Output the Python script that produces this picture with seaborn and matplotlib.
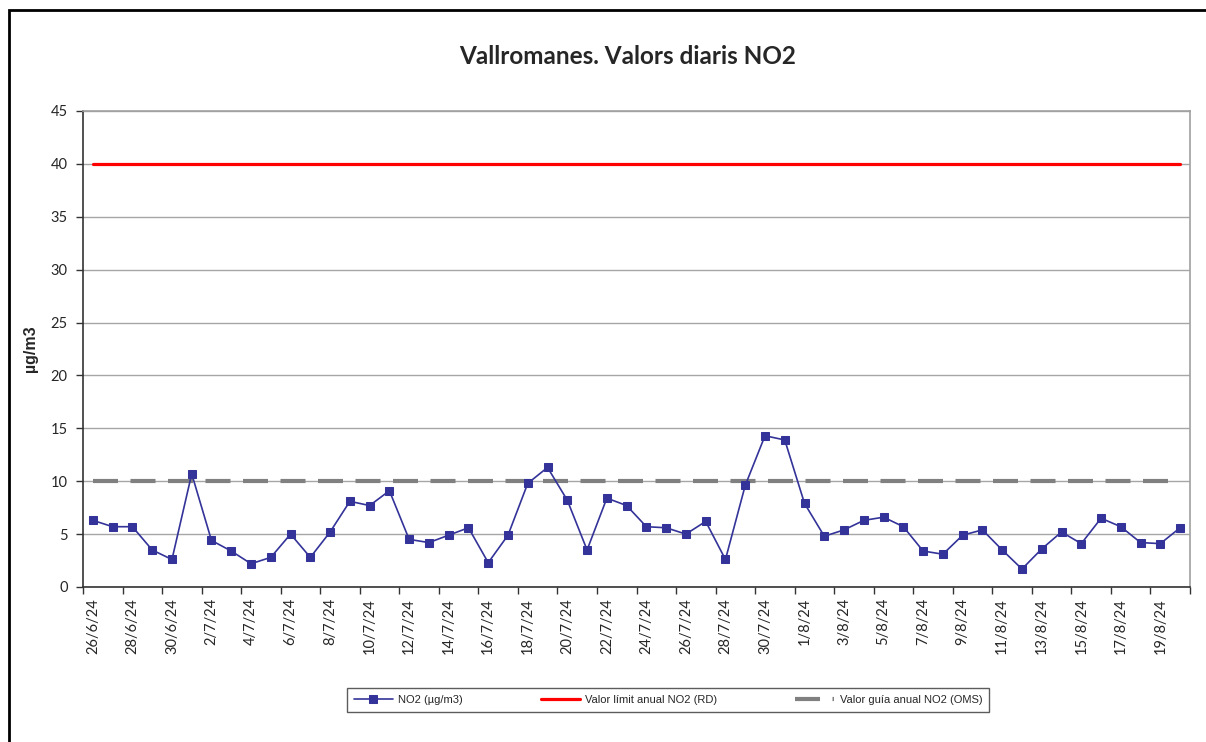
import numpy as np
import pandas as pd
import matplotlib
matplotlib.use("Agg")
import matplotlib.pyplot as plt
import seaborn as sns
from matplotlib.patches import Rectangle
from matplotlib.ticker import FixedLocator

# ---- data ----
dates = (["26/6/24", "27/6/24", "28/6/24", "29/6/24", "30/6/24"]
         + [f"{d}/7/24" for d in range(1, 32)]
         + [f"{d}/8/24" for d in range(1, 21)])
no2 = [6.3, 5.7, 5.7, 3.5, 2.6, 10.7, 4.4, 3.4, 2.2, 2.8,
       5.0, 2.8, 5.2, 8.1, 7.7, 9.1, 4.5, 4.2, 4.9, 5.6,
       2.3, 4.9, 9.8, 11.3, 8.2, 3.5, 8.4, 7.7, 5.7, 5.6,
       5.0, 6.2, 2.6, 9.6, 14.3, 13.9, 7.9, 4.8, 5.4, 6.3,
       6.6, 5.7, 3.4, 3.1, 4.9, 5.4, 3.5, 1.7, 3.6, 5.2,
       4.1, 6.5, 5.7, 4.2, 4.1, 5.6]
limit_rd = [40] * len(dates)
guide_oms = [10] * len(dates)
yticks = [0, 5, 10, 15, 20, 25, 30, 35, 40, 45]

title = "Vallromanes. Valors diaris NO2"
ylabel = "µg/m3"
lab_no2 = "NO2 (µg/m3)"
lab_rd = "Valor límit anual NO2 (RD)"
lab_oms = "Valor guía anual NO2 (OMS)"

df = pd.DataFrame({"idx": np.arange(len(dates)), "date": dates,
                   "no2": no2, "rd": limit_rd, "oms": guide_oms})

sns.set_theme(style="white")
plt.rcParams['font.family'] = ['Lato', 'DejaVu Sans']

W, H = 1206, 742
fig = plt.figure(figsize=(W / 100, H / 100), dpi=100)
ax = fig.add_axes([83 / W, 1 - 587 / H, (1190 - 83) / W, (587 - 111) / H])

sns.lineplot(data=df, x="idx", y="no2", ax=ax, color="#333399", lw=1.2,
             marker="s", markersize=6, markeredgecolor="#333399",
             label=lab_no2, zorder=4)
sns.lineplot(data=df, x="idx", y="rd", ax=ax, color="#ff0000", lw=2.3,
             label=lab_rd, zorder=3)
sns.lineplot(data=df, x="idx", y="oms", ax=ax, color="#808080", lw=3.0,
             dashes=False, label=lab_oms, zorder=3)
ax.lines[-1].set_dashes([6, 3])

n = len(dates)
ax.set_xlim(-0.5, n - 0.5)
ax.set_ylim(0, 45)
ax.set_yticks(yticks)
ax.set_yticklabels([str(v) for v in yticks], fontsize=10.5)
ax.yaxis.grid(True, color="#a6a6a6", lw=1)
ax.set_axisbelow(True)

lab_pos = np.arange(0, n, 2)
ax.set_xticks(lab_pos)
ax.set_xticklabels([dates[i] for i in lab_pos], rotation=90, fontsize=10.5)
ax.tick_params(axis="x", which="major", length=0, pad=8)
ax.xaxis.set_minor_locator(FixedLocator(np.arange(-0.5, n, 2)))
ax.tick_params(axis="x", which="minor", length=5, width=1, color="#333333",
               direction="out", bottom=True)
ax.tick_params(axis="y", which="major", length=5, width=1, color="#333333",
               direction="out", left=True, pad=6)

for s in ["left", "bottom"]:
    ax.spines[s].set_color("#333333")
    ax.spines[s].set_linewidth(1.2)
for s in ["top", "right"]:
    ax.spines[s].set_color("#a0a0a0")
    ax.spines[s].set_linewidth(1.2)

ax.set_xlabel("")
ax.set_ylabel(ylabel, fontsize=11.5, fontweight="bold",
              family=["Liberation Sans", "DejaVu Sans"], labelpad=9)

fig.text(0.52, 1 - 56 / H, title, ha="center", va="center",
         fontsize=17.5, fontweight="bold")

leg = ax.legend(loc="center", bbox_to_anchor=(668 / W, 1 - 700 / H),
                bbox_transform=fig.transFigure, ncol=3, frameon=True,
                fancybox=False, prop={"family": "Liberation Sans", "size": 8},
                handlelength=3.5, columnspacing=7, borderpad=0.6,
                handletextpad=0.5, borderaxespad=0)
leg.get_frame().set_edgecolor("#333333")
leg.get_frame().set_linewidth(1)

fig.patches.append(Rectangle((9 / W, -0.1), 1.2, 1.1 - 10 / H,
                             transform=fig.transFigure, fill=False,
                             edgecolor="black", lw=2, zorder=0))

fig.savefig("out.png", dpi=100, facecolor="white")
